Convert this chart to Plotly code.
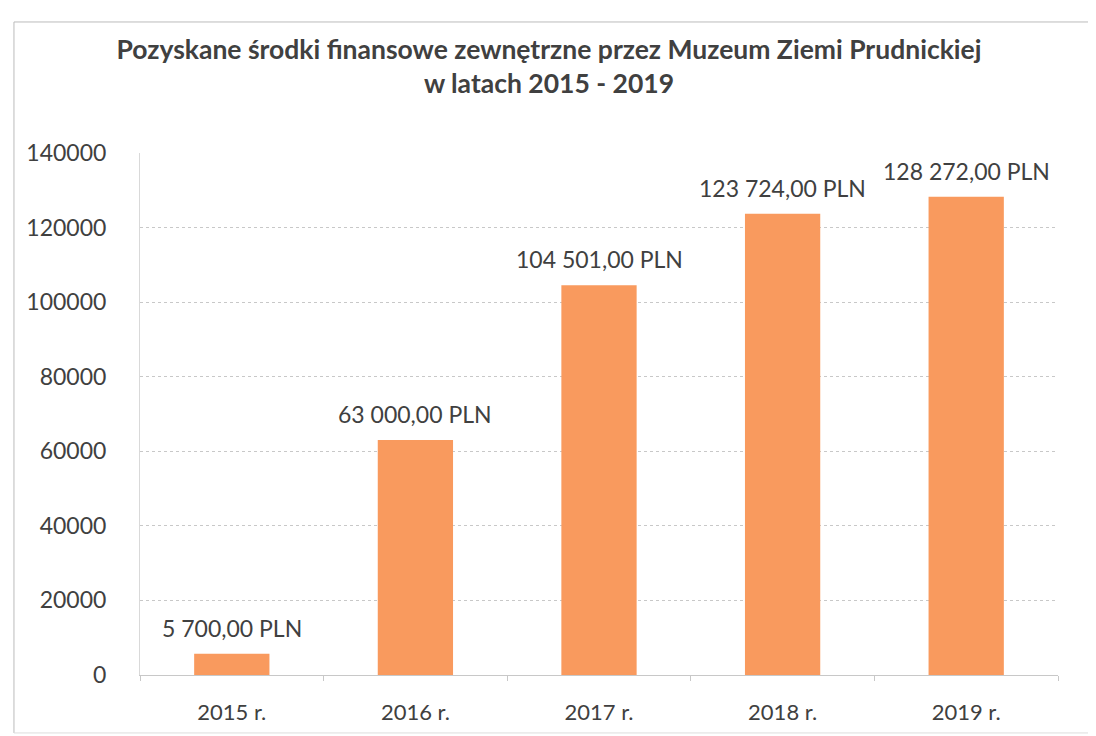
import plotly.graph_objects as go

years = ["2015 r.", "2016 r.", "2017 r.", "2018 r.", "2019 r."]
amounts = [5700, 63000, 104501, 123724, 128272]


def pln(v):
    s = "{:,.2f}".format(v).replace(",", " ").replace(".", ",")
    return s + " PLN"


labels = [pln(v) for v in amounts]

fig = go.Figure()
fig.add_trace(
    go.Bar(
        x=years,
        y=amounts,
        marker=dict(color="#F99A5E", line=dict(width=0)),
        width=0.41,
    )
)

# data labels above the bars
for yr, v, lab in zip(years, amounts, labels):
    fig.add_annotation(
        x=yr, y=v, text=lab, showarrow=False,
        yanchor="bottom", yshift=10,
        font=dict(family="Lato, sans-serif", size=23, color="#404040"),
    )

fig.update_layout(
    width=1096,
    height=736,
    paper_bgcolor="white",
    plot_bgcolor="white",
    showlegend=False,
    margin=dict(l=132, r=46, t=145, b=69),
    title=dict(
        text="<b>Pozyskane środki finansowe zewnętrzne przez Muzeum Ziemi Prudnickiej<br>w latach 2015 - 2019</b>",
        x=0.4936,
        xanchor="center",
        y=0.931,
        yanchor="top",
        font=dict(family="Lato, sans-serif", size=26.5, color="#404040"),
    ),
    font=dict(family="Lato, sans-serif", color="#404040"),
    shapes=[
        dict(type="line", xref="paper", yref="paper", x0=-0.1373, x1=1.1, y0=1.251, y1=1.251,
             line=dict(color="#BBBBBB", width=1)),
        dict(type="line", xref="paper", yref="paper", x0=-0.1373, x1=-0.1373, y0=-0.111, y1=1.251,
             line=dict(color="#BBBBBB", width=1)),
        dict(type="line", xref="paper", yref="paper", x0=-0.1373, x1=1.1, y0=-0.111, y1=-0.111,
             line=dict(color="#DDDDDD", width=1)),
    ],
)

fig.update_yaxes(
    range=[0, 140000],
    dtick=20000,
    tickformat="d",
    showgrid=True,
    gridcolor="#C8C8C8",
    griddash="dot",
    gridwidth=1,
    zeroline=False,
    showline=True,
    linecolor="#D9D9D9",
    ticks="",
    tickfont=dict(size=23, color="#404040"),
    ticklabelstandoff=28,
)
fig.update_xaxes(
    showgrid=False,
    showline=True,
    linecolor="#C8C8C8",
    ticks="outside",
    tickson="boundaries",
    ticklen=5,
    tickcolor="#C8C8C8",
    tickfont=dict(size=22, color="#404040"),
    ticklabelstandoff=18,
)

fig.write_html("out.html")
